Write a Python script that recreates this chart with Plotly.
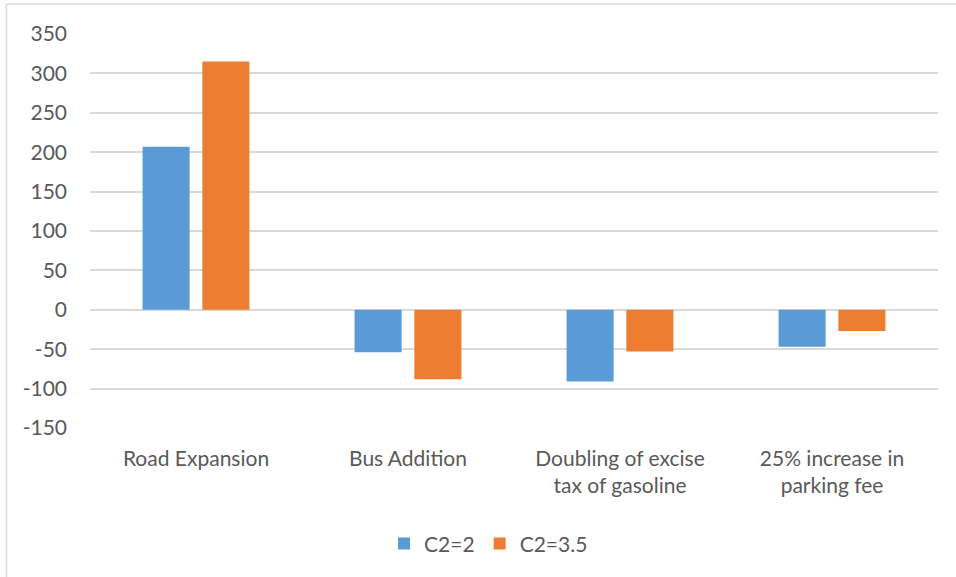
import plotly.graph_objects as go

categories = ["Road Expansion", "Bus Addition", "Doubling of excise<br>tax of gasoline", "25% increase in<br>parking fee"]
series_names = ["C2=2", "C2=3.5"]
c2_2 = [207, -54, -91, -47]
c2_35 = [315, -88, -53, -27]
y_ticks = [-150, -100, -50, 0, 50, 100, 150, 200, 250, 300, 350]
y_tick_text = ["-150", "-100", "-50", "0", "50", "100", "150", "200", "250", "300", "350"]

FONT = "Lato"
GRAY = "#595959"
FS = 21

fig = go.Figure()
fig.add_trace(go.Bar(x=categories, y=c2_2, name=series_names[0],
                     marker=dict(color="#5B9BD5", line=dict(width=0)),
                     width=0.222, offset=-0.252))
fig.add_trace(go.Bar(x=categories, y=c2_35, name=series_names[1],
                     marker=dict(color="#ED7D31", line=dict(width=0)),
                     width=0.222, offset=0.030))

fig.update_layout(
    width=956, height=577,
    margin=dict(l=90, r=18, t=34, b=149),
    paper_bgcolor="white", plot_bgcolor="white",
    font=dict(family=FONT, size=FS, color=GRAY),
    barmode="group",
    showlegend=True,
    legend=dict(orientation="h", x=0.47, xanchor="center", y=-0.242, yanchor="top",
                font=dict(family=FONT, size=FS, color=GRAY), itemwidth=30,
                traceorder="normal"),
    xaxis=dict(showgrid=False, showline=False, ticks="", ticklabelstandoff=16,
               tickfont=dict(size=FS, color=GRAY)),
    yaxis=dict(range=[-150, 350], tickvals=y_ticks, ticktext=y_tick_text, showgrid=True,
               gridcolor="#D9D9D9", gridwidth=1.6, zeroline=True, zerolinecolor="#D9D9D9",
               zerolinewidth=1.6, showline=False, ticks="", ticklabelstandoff=22,
               tickfont=dict(size=FS, color=GRAY)),
    shapes=[
        dict(type="line", xref="paper", yref="paper", x0=-0.0985, x1=1.1, y0=1.076, y1=1.076,
             line=dict(color="#D9D9D9", width=1.5)),
        dict(type="line", xref="paper", yref="paper", x0=-0.0985, x1=-0.0985, y0=1.076, y1=-0.5,
             line=dict(color="#D9D9D9", width=1.5)),
    ],
)

fig.write_html("out.html", config={"displayModeBar": False},
               post_script="document.body.style.margin='0px';document.body.style.overflow='hidden';")
